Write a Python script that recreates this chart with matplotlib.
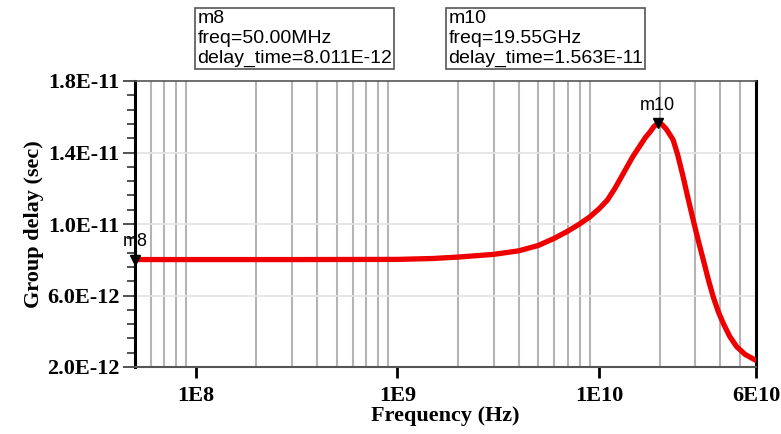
import numpy as np
import matplotlib.pyplot as plt
from matplotlib.ticker import FixedLocator, LogLocator, AutoMinorLocator, NullFormatter

# values (frequency in Hz, delay in ps)
freq_hz = [5e7, 1e8, 3e8, 1e9, 1.5e9, 2e9, 3e9, 4e9, 5e9, 6e9, 7e9, 8e9, 9e9,
           1e10, 1.1e10, 1.2e10, 1.3e10, 1.47e10, 1.6e10, 1.7e10, 1.79e10, 1.87e10,
           1.955e10, 2.05e10, 2.15e10, 2.25e10, 2.33e10, 2.45e10, 2.61e10, 2.76e10,
           2.93e10, 3.1e10, 3.29e10, 3.48e10, 3.68e10, 3.9e10, 4.13e10, 4.45e10,
           4.81e10, 5.3e10, 6e10]
delay_ps = [8.011, 8.01, 8.01, 8.02, 8.07, 8.15, 8.3, 8.5, 8.8, 9.2, 9.6, 10.0, 10.4,
            10.85, 11.34, 12.0, 12.7, 13.77, 14.4, 14.85, 15.15, 15.45,
            15.63, 15.57, 15.32, 14.98, 14.7, 13.9, 12.65, 11.45,
            10.22, 9.1, 7.98, 6.9, 5.93, 5.1, 4.44, 3.7,
            3.14, 2.7, 2.37]

x_ticks = [1e8, 1e9, 1e10, 6e10]
x_tick_labels = ["1E8", "1E9", "1E10", "6E10"]
y_ticks = [2e-12, 6e-12, 1e-11, 1.4e-11, 1.8e-11]
y_tick_labels = ["2.0E-12", "6.0E-12", "1.0E-11", "1.4E-11", "1.8E-11"]

markers = [("m8", 5e7, 8.011e-12, "50.00MHz", "8.011E-12"),
           ("m10", 1.955e10, 1.563e-11, "19.55GHz", "1.563E-11")]

delay = np.array(delay_ps) * 1e-12

fig = plt.figure(figsize=(7.81, 4.34), dpi=100)
ax = fig.add_axes([135 / 781, 67 / 434, 621 / 781, 286 / 434])

ax.plot(freq_hz, delay, color="#ee0000", lw=3.8, solid_joinstyle="round", zorder=3)
ax.set_xscale("log")
ax.set_xlim(5e7, 6e10)
ax.set_ylim(2e-12, 1.8e-11)

# grid: every log step vertically, major values horizontally
ax.xaxis.set_minor_locator(LogLocator(base=10, subs=np.arange(1, 10)))
ax.xaxis.set_minor_formatter(NullFormatter())
for f in ax.xaxis.get_minorticklocs():
    if 5e7 < f < 6e10:
        ax.axvline(f, color="#b4b4b4", lw=1.5, zorder=1)
for v in y_ticks[1:-1]:
    ax.axhline(v, color="#e4e4e4", lw=1.3, zorder=1)

ax.xaxis.set_major_locator(FixedLocator(x_ticks))
ax.set_xticklabels(x_tick_labels)
ax.tick_params(axis="x", which="minor", length=0)
ax.tick_params(axis="x", which="major", direction="out", length=8, width=2, pad=6)

ax.yaxis.set_major_locator(FixedLocator(y_ticks))
ax.set_yticklabels(y_tick_labels)
ax.yaxis.set_minor_locator(AutoMinorLocator(5))
ax.tick_params(axis="y", which="major", direction="out", length=9, width=1.2,
               color="#333333", pad=2)
ax.tick_params(axis="y", which="minor", direction="out", length=6, width=1.2, color="#333333")

for lab in ax.get_xticklabels() + ax.get_yticklabels():
    lab.set_fontfamily("Liberation Serif")
    lab.set_fontweight("bold")
    lab.set_fontsize(16)

ax.spines["left"].set_linewidth(2.2)
ax.spines["right"].set_linewidth(2.2)
ax.spines["top"].set_color("#555555")
ax.spines["top"].set_linewidth(1.2)
ax.spines["bottom"].set_color("#555555")
ax.spines["bottom"].set_linewidth(1.5)

ax.set_xlabel("Frequency (Hz)", fontfamily="Liberation Serif", fontweight="bold",
              fontsize=16, labelpad=0)
ax.set_ylabel("Group delay (sec)", fontfamily="Liberation Serif", fontweight="bold",
              fontsize=16, labelpad=2)

# markers on the trace
for name, f, d, ftxt, dtxt in markers:
    ax.plot([f], [d], marker="v", color="black", markersize=7, clip_on=False, zorder=5)
    ax.annotate(name, (f, d), xytext=(0, 7), textcoords="offset points",
                ha="center", va="bottom", fontsize=13, fontfamily="Liberation Sans",
                annotation_clip=False)

# readout boxes above the plot
box_x = [195, 446]
for (name, f, d, ftxt, dtxt), bx in zip(markers, box_x):
    fig.text(bx / 781 + 0.003, 1 - 10 / 434,
             f"{name}\nfreq={ftxt}\ndelay_time={dtxt}",
             ha="left", va="top", fontsize=14, fontfamily="Liberation Sans",
             linespacing=1.22,
             bbox=dict(boxstyle="square,pad=0.1", fc="white", ec="#555555", lw=1.2))

fig.savefig("out.png", dpi=100)
